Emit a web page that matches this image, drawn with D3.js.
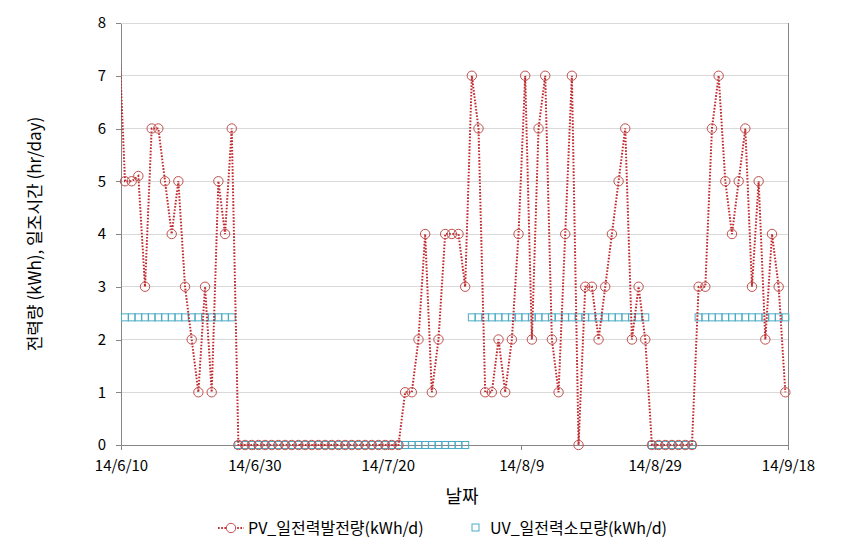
<!DOCTYPE html>
<html><head><meta charset="utf-8">
<script src="https://cdn.jsdelivr.net/npm/d3@7"></script>
<style>body{margin:0;background:#fff}svg{display:block}</style></head>
<body><svg id="c" width="851" height="555"></svg>
<script>
// ---- data ----
const firstDate = "2014-06-09"; // first record (lies just left of the axis start)
const pvValues = [8,
  5,5,5.1,3,6,6,5,4,5,3,2,1,3,1,5,4,6,
  0,0,0,0,0,0,0,0,0,0,0,0,0,0,0,0,0,0,0,0,0,0,0,0,0,
  1,1,2,4,1,2,4,4,4,3,7,6,1,1,2,1,2,4,7,2,6,7,2,1,
  4,7,0,3,3,2,3,4,5,6,2,3,2,
  0,0,0,0,0,0,0,
  3,3,6,7,5,4,5,6,3,5,2,4,3,1];
const uvValues = [null,
  2.42,2.42,2.42,2.42,2.42,2.42,2.42,2.42,2.42,2.42,2.42,2.42,2.42,2.42,2.42,2.42,2.42,
  0,0,0,0,0,0,0,0,0,0,0,0,0,0,0,0,0,0,0,0,0,0,0,0,0,0,0,0,0,0,0,0,0,0,0,
  2.42,2.42,2.42,2.42,2.42,2.42,2.42,2.42,2.42,2.42,2.42,2.42,2.42,2.42,2.42,2.42,2.42,2.42,2.42,2.42,2.42,2.42,2.42,2.42,2.42,2.42,2.42,
  0,0,0,0,0,0,0,
  2.42,2.42,2.42,2.42,2.42,2.42,2.42,2.42,2.42,2.42,2.42,2.42,2.42,2.42];
const xTickLabels = ["14/6/10","14/6/30","14/7/20","14/8/9","14/8/29","14/9/18"];
const yTicks = [0,1,2,3,4,5,6,7,8];
const seriesNames = ["PV_일전력발전량(kWh/d)","UV_일전력소모량(kWh/d)"];
const xTitle = "날짜";
const yTitle = "전력량 (kWh), 일조시간 (hr/day)";

// ---- layout ----
const W = 851, H = 555;
const L = 121, R = 788, T = 23, B = 445;
const pointOffset = 0.6; // fraction of a day
const font = "'Noto Sans CJK KR','Noto Sans',sans-serif";
const pvLine = "#c0282d", pvMarker = "#c0504d", uvColor = "#4bacc6";

const svg = d3.select("#c");
const parseTick = d3.timeParse("%y/%m/%d");
const tickDates = xTickLabels.map(parseTick);
const start = d3.timeParse("%Y-%m-%d")(firstDate);
const dates = pvValues.map((_, i) => new Date(start.getTime() + (i + pointOffset) * 864e5));

const x = d3.scaleTime().domain([tickDates[0], tickDates[tickDates.length-1]]).range([L, R]);
const y = d3.scaleLinear().domain([0, 8]).range([B, T]);

svg.append("defs").append("clipPath").attr("id","clip")
  .append("rect").attr("x", L).attr("y", T-6).attr("width", R-L).attr("height", B-T+12);

// grid
svg.append("g").selectAll("line").data(yTicks.filter(d => d > 0)).join("line")
  .attr("x1", L).attr("x2", R).attr("y1", d => y(d)).attr("y2", d => y(d))
  .attr("stroke", "#d9d9d9").attr("stroke-width", 1).attr("shape-rendering","crispEdges");
// right border
svg.append("line").attr("x1", R).attr("x2", R).attr("y1", T).attr("y2", B)
  .attr("stroke", "#868686").attr("shape-rendering","crispEdges");

// axes
const yAxis = svg.append("g").attr("transform", `translate(${L},0)`)
  .call(d3.axisLeft(y).tickValues(yTicks).tickSize(5).tickPadding(10).tickSizeOuter(0));
const xAxis = svg.append("g").attr("transform", `translate(0,${B})`)
  .call(d3.axisBottom(x).tickValues(tickDates).tickFormat((d,i) => xTickLabels[i]).tickSize(5).tickPadding(10).tickSizeOuter(0));
[yAxis, xAxis].forEach(g => {
  g.selectAll("path,line").attr("stroke", "#868686").attr("shape-rendering","crispEdges");
  g.selectAll("text").attr("font-family", font).attr("font-size", 15).attr("fill", "#000");
});

// UV markers
const uvData = uvValues.map((v,i) => ({d: dates[i], v})).filter(p => p.v !== null && p.d >= x.domain()[0]);
const sq = 7;
svg.append("g").selectAll("rect").data(uvData).join("rect")
  .attr("x", p => x(p.d) - sq/2).attr("y", p => y(p.v) - sq/2)
  .attr("width", sq).attr("height", sq)
  .attr("fill", "none").attr("stroke", uvColor).attr("stroke-width", 1);

// PV line
const pvData = pvValues.map((v,i) => ({d: dates[i], v}));
svg.append("path").datum(pvData).attr("clip-path","url(#clip)")
  .attr("d", d3.line().x(p => x(p.d)).y(p => y(p.v)))
  .attr("fill","none").attr("stroke", pvLine).attr("stroke-width", 2).attr("stroke-dasharray","1.6,1.6");
svg.append("g").selectAll("circle").data(pvData.filter(p => p.d >= x.domain()[0])).join("circle")
  .attr("cx", p => x(p.d)).attr("cy", p => y(p.v)).attr("r", 4.7)
  .attr("fill","none").attr("stroke", pvMarker).attr("stroke-width", 1);

// titles
svg.append("text").attr("x", 462).attr("y", 503).attr("text-anchor","middle")
  .attr("font-family", font).attr("font-size", 18).text(xTitle);
svg.append("text").attr("transform", "translate(41,234) rotate(-90)").attr("text-anchor","middle")
  .attr("font-family", font).attr("font-size", 17).text(yTitle);

// legend
const lg = svg.append("g");
lg.append("line").attr("x1", 218).attr("x2", 244).attr("y1", 528).attr("y2", 528)
  .attr("stroke", pvLine).attr("stroke-width", 2).attr("stroke-dasharray","1.6,1.6");
lg.append("circle").attr("cx", 231).attr("cy", 528).attr("r", 4.7)
  .attr("fill","#fff").attr("stroke", pvMarker);
lg.append("text").attr("x", 248).attr("y", 534).attr("font-family", font).attr("font-size", 16).text(seriesNames[0]);
lg.append("rect").attr("x", 472).attr("y", 524).attr("width", sq).attr("height", sq)
  .attr("fill","none").attr("stroke", uvColor);
lg.append("text").attr("x", 490).attr("y", 534).attr("font-family", font).attr("font-size", 16).text(seriesNames[1]);
</script></body></html>
